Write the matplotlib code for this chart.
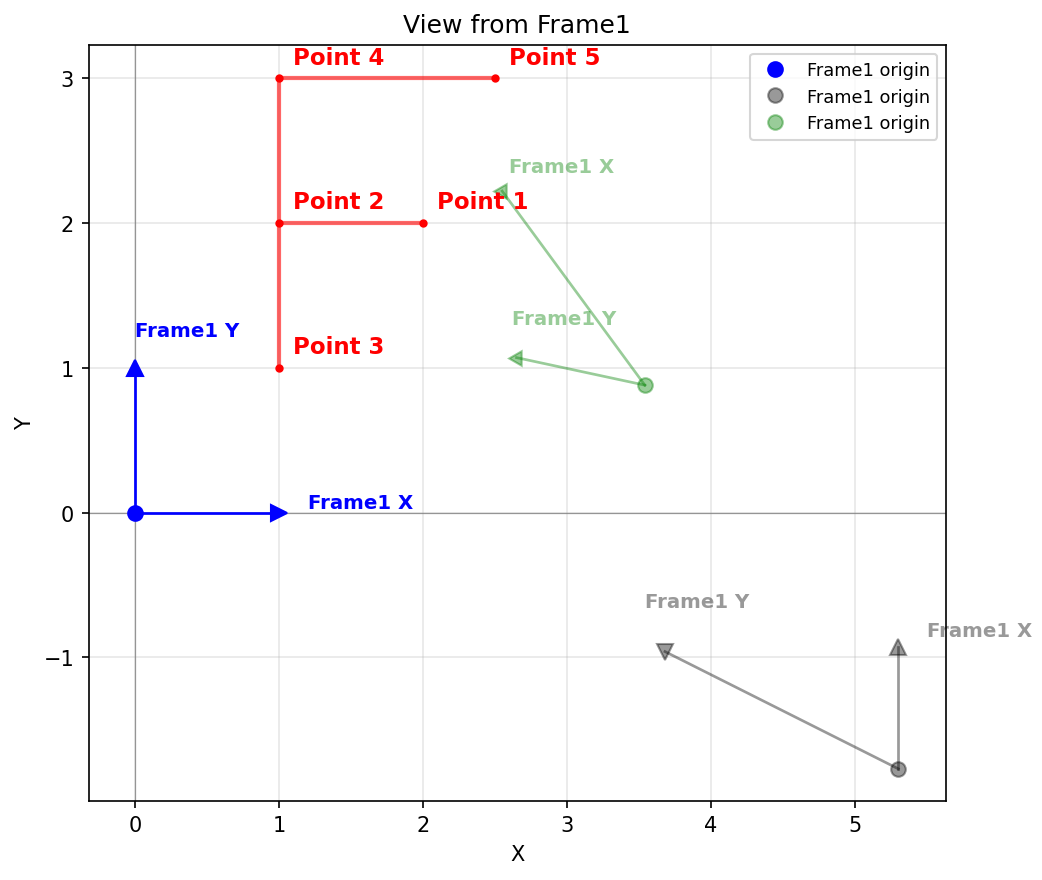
import matplotlib
matplotlib.use("Agg")
import matplotlib.pyplot as plt

# frames: origin, x-axis tip, y-axis tip
frame_names = ["Frame1", "Frame1", "Frame1"]
origins = [(0.0, 0.0), (5.3, -1.77), (3.54, 0.88)]
x_tips = [(1.0, 0.0), (5.3, -0.93), (2.55, 2.22)]
y_tips = [(0.0, 1.0), (3.68, -0.96), (2.65, 1.07)]
colors = ["blue", "black", "green"]
alphas = [1.0, 0.4, 0.4]
x_markers = [">", "^", (3, 0, 90)]
y_markers = ["^", "v", (3, 0, 90)]
x_label_pos = [(1.2, 0.03), (5.5, -0.85), (2.6, 2.35)]
y_label_pos = [(0.0, 1.22), (3.54, -0.65), (2.62, 1.3)]

pt_names = ["Point 1", "Point 2", "Point 3", "Point 4", "Point 5"]
pt_x = [2.0, 1.0, 1.0, 1.0, 2.5]
pt_y = [2.0, 2.0, 1.0, 3.0, 3.0]
segments = [(0, 1), (2, 3), (3, 4)]

fig, ax = plt.subplots(figsize=(6.953, 5.873), dpi=150)
ax.axhline(0, color="gray", lw=0.6, alpha=0.8)
ax.axvline(0, color="gray", lw=0.6, alpha=0.8)
ax.grid(True, alpha=0.3)

for i in range(3):
    o, xt, yt, c, a = origins[i], x_tips[i], y_tips[i], colors[i], alphas[i]
    ax.plot([o[0]], [o[1]], "o", color=c, alpha=a, markersize=7, label=f"{frame_names[i]} origin")
    ax.plot([o[0], xt[0]], [o[1], xt[1]], color=c, alpha=a, lw=1.3)
    ax.plot([o[0], yt[0]], [o[1], yt[1]], color=c, alpha=a, lw=1.3)
    ax.plot([xt[0]], [xt[1]], marker=x_markers[i], color=c, alpha=a, markersize=8, linestyle="none")
    ax.plot([yt[0]], [yt[1]], marker=y_markers[i], color=c, alpha=a, markersize=8, linestyle="none")
    ax.text(*x_label_pos[i], f"{frame_names[i]} X", color=c, alpha=a, fontsize=9.5, fontweight="bold")
    ax.text(*y_label_pos[i], f"{frame_names[i]} Y", color=c, alpha=a, fontsize=9.5, fontweight="bold")

for a_, b_ in segments:
    ax.plot([pt_x[a_], pt_x[b_]], [pt_y[a_], pt_y[b_]], color="red", alpha=0.6, lw=2)
ax.plot(pt_x, pt_y, "o", color="red", markersize=3, linestyle="none")
for n, x, y in zip(pt_names, pt_x, pt_y):
    ax.text(x + 0.1, y + 0.1, n, color="red", fontsize=11, fontweight="bold")

ax.set_xlim(-0.32, 5.63)
ax.set_ylim(-1.99, 3.23)
ax.set_xlabel("X")
ax.set_ylabel("Y")
ax.set_title("View from Frame1")
ax.legend(loc="upper right", fontsize=8.5)
fig.subplots_adjust(left=0.085, right=0.907, top=0.948, bottom=0.09)
fig.savefig("out.png")
